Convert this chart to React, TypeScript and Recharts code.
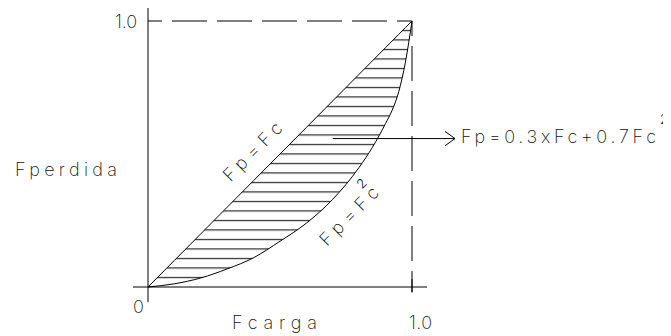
import React from 'react';
import { ComposedChart, Line, Area, XAxis, YAxis, ReferenceLine } from 'recharts';

// Fcarga (load factor) sample points
const fcValues = [0, 0.1, 0.2, 0.3, 0.4, 0.5, 0.6, 0.7, 0.8, 0.85, 0.9, 0.925, 0.95, 0.975, 1];
// Upper bound: Fp = Fc
const fpUpper = [0, 0.1, 0.2, 0.3, 0.4, 0.5, 0.6, 0.7, 0.8, 0.85, 0.9, 0.925, 0.95, 0.975, 1];
// Lower bound curve (Fp = Fc^2 label)
const fpLower = [0, 0.012, 0.034, 0.068, 0.11, 0.172, 0.24, 0.33, 0.45, 0.525, 0.615, 0.665, 0.735, 0.845, 1];

const axisLabels = { x: 'Fcarga', y: 'Fperdida', zero: '0', one: '1.0' };
const curveLabels = { upper: 'Fp=Fc', lower: 'Fp=Fc', formula: 'Fp=0.3xFc+0.7Fc', sup: '2' };

const data = fcValues.map((fc, i) => ({
  fc,
  upper: fpUpper[i],
  lower: fpLower[i],
  band: [fpLower[i], fpUpper[i]],
}));

const W = 663;
const H = 328;
const M = { top: 13, right: 259, bottom: 49, left: 140 };

const FONT = 'Inter, "DejaVu Sans", sans-serif';
const txt = { fontFamily: FONT, fontWeight: 200, fontSize: 18, fill: '#111' } as const;
const sup = { fontFamily: FONT, fontWeight: 300, fontSize: 13, fill: '#111' } as const;
const ink = '#000';

export default function App() {
  return (
    <div style={{ position: 'relative', width: W, height: H }}>
      <svg width={0} height={0} style={{ position: 'absolute' }}>
        <defs>
          <pattern id="hatch" patternUnits="userSpaceOnUse" width={8} height={9.5}>
            <rect x={0} y={3} width={8} height={1} fill={ink} />
          </pattern>
        </defs>
      </svg>
      <ComposedChart width={W} height={H} data={data} margin={M}>
        <XAxis dataKey="fc" type="number" domain={[0, 1]} hide />
        <YAxis type="number" domain={[0, 1]} hide />
        <Area
          dataKey="band"
          type="monotone"
          stroke="none"
          fill="url(#hatch)"
          fillOpacity={1}
          isAnimationActive={false}
          activeDot={false}
        />
        <Line dataKey="upper" type="linear" stroke={ink} strokeWidth={1} dot={false} activeDot={false} isAnimationActive={false} />
        <Line dataKey="lower" type="monotone" stroke={ink} strokeWidth={1} dot={false} activeDot={false} isAnimationActive={false} />

        {/* axes */}
        <ReferenceLine segment={[{ x: 0, y: -0.057 }, { x: 0, y: 1.055 }]} stroke={ink} ifOverflow="visible" />
        <ReferenceLine segment={[{ x: -0.057, y: 0 }, { x: 1.057, y: 0 }]} stroke={ink} ifOverflow="visible" />
        {/* dashed guides */}
        <ReferenceLine segment={[{ x: 0, y: 1 }, { x: 1, y: 1 }]} stroke={ink} strokeDasharray="35 10" strokeDashoffset={21} ifOverflow="visible" />
        <ReferenceLine segment={[{ x: 1, y: 1 }, { x: 1, y: -0.02 }]} stroke={ink} strokeDasharray="35 10" strokeDashoffset={20} ifOverflow="visible" />
        <ReferenceLine segment={[{ x: 1, y: 0.03 }, { x: 1, y: -0.02 }]} stroke={ink} ifOverflow="visible" />
        {/* arrow */}
        <ReferenceLine segment={[{ x: 0.7, y: 0.558 }, { x: 1.163, y: 0.558 }]} stroke={ink} ifOverflow="visible" />
        <ReferenceLine segment={[{ x: 1.125, y: 0.585 }, { x: 1.163, y: 0.558 }]} stroke={ink} ifOverflow="visible" />
        <ReferenceLine segment={[{ x: 1.125, y: 0.531 }, { x: 1.163, y: 0.558 }]} stroke={ink} ifOverflow="visible" />

        {/* texts */}
        <g>
          <text x={107} y={20} {...txt} textLength={22} lengthAdjust="spacing">{axisLabels.one}</text>
          <text x={7} y={168} {...txt} textLength={102} lengthAdjust="spacing">{axisLabels.y}</text>
          <text x={125} y={305} {...txt}>{axisLabels.zero}</text>
          <text x={224} y={321} {...txt} textLength={85} lengthAdjust="spacing">{axisLabels.x}</text>
          <text x={401} y={321} {...txt} textLength={23} lengthAdjust="spacing">{axisLabels.one}</text>
        </g>
        <g>
          <text x={453} y={135} {...txt} textLength={195} lengthAdjust="spacing">{curveLabels.formula}</text>
          <text x={652} y={116} {...sup}>{curveLabels.sup}</text>
        </g>
        <g transform="translate(249,148) rotate(-45)">
          <text x={0} y={0} {...txt} textAnchor="middle" textLength={75} lengthAdjust="spacing">{curveLabels.upper}</text>
        </g>
        <g transform="translate(345.5,212.5) rotate(-45)">
          <text x={0} y={0} {...txt} textAnchor="middle" textLength={75} lengthAdjust="spacing">{curveLabels.lower}</text>
          <text x={28} y={-16} {...sup}>{curveLabels.sup}</text>
        </g>
      </ComposedChart>
    </div>
  );
}
